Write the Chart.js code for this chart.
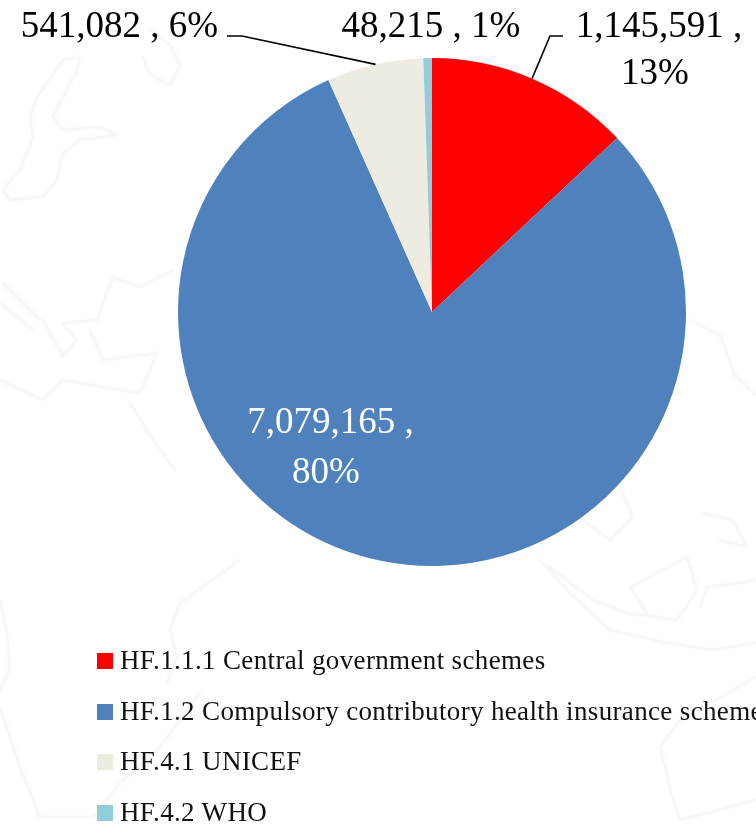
<!DOCTYPE html>
<html>
<head>
<meta charset="utf-8">
<script src="https://cdn.jsdelivr.net/npm/chart.js@4/dist/chart.umd.min.js"></script>
<style>
    html, body { margin: 0; padding: 0; background: #fff; }
    #wrap { position: relative; width: 756px; height: 825px; overflow: hidden; }
    #backdrop { position: absolute; left: 0; top: 0; }
    #backdrop g { filter: blur(1px); }
    #chart { position: absolute; left: 0; top: 0; }
    #legend { position: absolute; left: 97px; top: 635px; width: 800px; font: 27px "Liberation Serif", serif; letter-spacing: 0.35px; color: #111; }
    #legend div { height: 50.5px; line-height: 50.5px; white-space: nowrap; }
    #legend i { display: inline-block; width: 16px; height: 16px; margin-right: 7px; }
</style>
</head>
<body>
<div id="wrap">
    <!-- faint map outline behind the pie -->
    <svg id="backdrop" width="756" height="825" fill="none" stroke="#f4f4f4" stroke-width="2.5" stroke-linejoin="round" stroke-linecap="round">
        <g>
            <polyline points="80,57 63,60 37,97 30,117 33,137 20,170 3,190 10,200 43,197 57,180 63,153 80,140 117,135 100,127 63,130 53,117 77,70 80,57" />
            <polyline points="143,57 150,75 170,85 180,65 170,45 150,30" />
            <polyline points="3,283 40,320" />
            <polyline points="0,303 33,330" />
            <polyline points="43,320 63,357 77,340 63,323 97,320 113,277 140,287 173,270" />
            <polyline points="90,330 103,360 157,353 140,393 63,380 43,400 0,380" />
            <polyline points="130,403 153,440 175,470" />
            <polyline points="540,560 567,590 610,630 667,643 713,650 756,643" />
            <polyline points="550,567 593,600 627,613 677,620 697,590 687,557 630,587 647,613" />
            <polyline points="583,520 610,540 633,517 620,487" />
            <polyline points="703,513 733,520 747,547 720,540" />
            <polyline points="700,607 707,587 740,583 756,580" />
            <polyline points="756,677 680,720 660,747 673,800 680,820 756,800" />
            <polyline points="0,600 7,633 10,667 0,693" />
            <polyline points="0,707 20,767 40,817 93,817 123,780 160,747 200,693" />
            <polyline points="170,630 180,603 240,560" />
            <polyline points="170,630 177,657 167,683" />
            <polyline points="690,320 720,335 735,375 756,395" />
        </g>
    </svg>
    <canvas id="chart" width="756" height="825"></canvas>
    <div id="legend"></div>
</div>
<script>
// Health financing schemes, amounts and rounded shares
const schemes = [
    'HF.1.1.1 Central government schemes',
    'HF.1.2 Compulsory contributory health insurance schemes',
    'HF.4.1 UNICEF',
    'HF.4.2 WHO'
];
const amounts = [1145591, 7079165, 541082, 48215];
const shares = ['13%', '80%', '6%', '1%'];
const colors = ['#ff0000', '#4f81bd', '#eeece1', '#92cddc'];

const fmt = n => n.toLocaleString('en-US');

// Label placement per slice: text lines with their centre points
const labelSpots = [
    { lines: [`${fmt(amounts[0])} ,`, shares[0]], x: [659, 655], y: [27, 74], color: '#000' },
    { lines: [`${fmt(amounts[1])} ,`, shares[1]], x: [330.5, 326], y: [423, 473], color: '#fff' },
    { lines: [`${fmt(amounts[2])} , ${shares[2]}`], x: [119.5], y: [27], color: '#000' },
    { lines: [`${fmt(amounts[3])} , ${shares[3]}`], x: [431], y: [27], color: '#000' }
];

// Leader lines: short stub next to the text, then down to the slice edge
const leaders = [
    { from: [563, 36], elbow: [550, 36], angle: 0.405 },
    { from: [227, 36], elbow: [242, 36], angle: -0.224 }
];

const sliceLabels = {
    id: 'sliceLabels',
    afterDraw(chart) {
        const { ctx } = chart;
        const arc = chart.getDatasetMeta(0).data[0];
        ctx.save();
        ctx.strokeStyle = '#000';
        ctx.lineWidth = 1.6;
        leaders.forEach(l => {
            const a = l.angle;
            ctx.beginPath();
            ctx.moveTo(l.from[0], l.from[1]);
            ctx.lineTo(l.elbow[0], l.elbow[1]);
            ctx.lineTo(arc.x + arc.outerRadius * Math.sin(a), arc.y - arc.outerRadius * Math.cos(a));
            ctx.stroke();
        });
        ctx.font = '37px "Liberation Serif", serif';
        ctx.textAlign = 'center';
        ctx.textBaseline = 'middle';
        labelSpots.forEach(s => {
            ctx.fillStyle = s.color;
            s.lines.forEach((t, i) => ctx.fillText(t, s.x[i], s.y[i]));
        });
        ctx.restore();
    }
};

new Chart(document.getElementById('chart'), {
    type: 'pie',
    data: {
        labels: schemes,
        datasets: [{ data: amounts, backgroundColor: colors, borderWidth: 0 }]
    },
    options: {
        responsive: false,
        animation: false,
        layout: { padding: { left: 178, top: 58, right: 70, bottom: 259 } },
        plugins: { legend: { display: false }, tooltip: { enabled: false } }
    },
    plugins: [sliceLabels]
});

// Legend rows
document.getElementById('legend').innerHTML = schemes
    .map((s, i) => `<div><i style="background:${colors[i]}"></i>${s}</div>`)
    .join('');
</script>
</body>
</html>
